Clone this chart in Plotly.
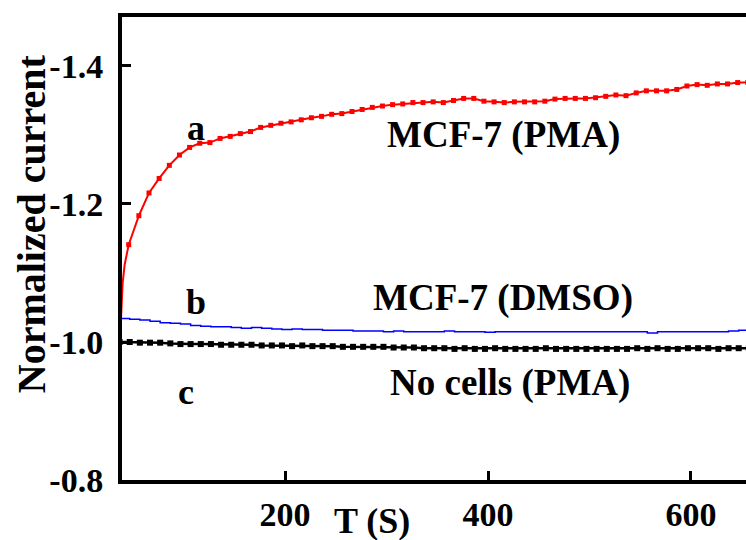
import plotly.graph_objects as go

# ---- data ----
t_red = [38, 40, 42, 46, 56, 66, 76, 86, 96, 106, 116, 126, 136, 146, 156, 166, 176, 186, 196,
         206, 216, 226, 236, 246, 256, 266, 276, 286, 296, 306, 316, 326, 336, 346, 356, 366,
         376, 386, 396, 406, 416, 426, 436, 446, 456, 466, 476, 486, 496, 506, 516, 526, 536,
         546, 556, 566, 576, 586, 596, 606, 616, 626, 636, 646, 656]
red = [-1.020, -1.085, -1.112, -1.141, -1.183, -1.216, -1.237, -1.256, -1.271, -1.282, -1.288,
       -1.289, -1.295, -1.298, -1.302, -1.305, -1.311, -1.314, -1.317, -1.319, -1.322, -1.325,
       -1.327, -1.330, -1.331, -1.334, -1.337, -1.340, -1.342, -1.344, -1.345, -1.347, -1.347,
       -1.348, -1.347, -1.350, -1.353, -1.353, -1.349, -1.348, -1.347, -1.348, -1.348, -1.348,
       -1.349, -1.352, -1.353, -1.353, -1.353, -1.354, -1.356, -1.358, -1.357, -1.361, -1.364,
       -1.364, -1.364, -1.366, -1.371, -1.373, -1.372, -1.374, -1.374, -1.376, -1.376]

t_blue = [37, 47, 57, 67, 77, 87, 97, 107, 117, 127, 137, 147, 157, 167, 177, 187, 197, 207, 217,
          227, 237, 247, 257, 267, 277, 287, 297, 307, 317, 327, 337, 347, 357, 367, 377, 387,
          397, 407, 417, 427, 437, 447, 457, 467, 477, 487, 497, 507, 517, 527, 537, 547, 557,
          567, 577, 587, 597, 607, 617, 627, 637, 647, 657]
blue = [-1.034, -1.033, -1.032, -1.030, -1.028, -1.027, -1.026, -1.024, -1.023, -1.022, -1.022,
        -1.021, -1.020, -1.021, -1.020, -1.019, -1.018, -1.019, -1.018, -1.018, -1.017, -1.017,
        -1.017, -1.016, -1.016, -1.016, -1.015, -1.016, -1.015, -1.015, -1.015, -1.015, -1.016,
        -1.015, -1.015, -1.015, -1.014, -1.015, -1.015, -1.015, -1.015, -1.015, -1.015, -1.015,
        -1.015, -1.015, -1.015, -1.015, -1.015, -1.015, -1.015, -1.015, -1.013, -1.015, -1.015,
        -1.015, -1.015, -1.015, -1.015, -1.015, -1.016, -1.017, -1.017]

t_black = [37, 47, 57, 67, 77, 87, 97, 107, 117, 127, 137, 147, 157, 167, 177, 187, 197, 207,
           217, 227, 237, 247, 257, 267, 277, 287, 297, 307, 317, 327, 337, 347, 357, 367, 377,
           387, 397, 407, 417, 427, 437, 447, 457, 467, 477, 487, 497, 507, 517, 527, 537, 547,
           557, 567, 577, 587, 597, 607, 617, 627, 637, 647, 657]
black = [-1.000, -1.000, -0.999, -0.999, -0.999, -0.998, -0.997, -0.997, -0.997, -0.997, -0.996,
         -0.996, -0.996, -0.996, -0.995, -0.995, -0.995, -0.994, -0.995, -0.994, -0.994, -0.994,
         -0.993, -0.993, -0.993, -0.993, -0.993, -0.992, -0.992, -0.992, -0.991, -0.991, -0.991,
         -0.990, -0.991, -0.990, -0.990, -0.991, -0.990, -0.990, -0.990, -0.990, -0.991, -0.990,
         -0.990, -0.990, -0.990, -0.990, -0.990, -0.990, -0.990, -0.991, -0.990, -0.991, -0.990,
         -0.990, -0.991, -0.991, -0.991, -0.990, -0.991, -0.991, -0.991]

x_ticks = [200, 400, 600]
y_ticks = [-1.4, -1.2, -1.0, -0.8]

labels = ["a", "b", "c", "MCF-7 (PMA)", "MCF-7 (DMSO)", "No cells (PMA)"]
label_t = [112, 112, 102, 415, 415, 422]
label_y = [-1.310, -1.058, -0.928, -1.300, -1.064, -0.941]

FONT = "Liberation Serif"

fig = go.Figure()
fig.add_trace(go.Scatter(x=t_red, y=red, mode="lines", line=dict(color="#ff0000", width=2),
                         showlegend=False))
fig.add_trace(go.Scatter(x=t_red[3:], y=red[3:], mode="markers",
                         marker=dict(symbol="square", size=5, color="#ff0000"), showlegend=False))
fig.add_trace(go.Scatter(x=t_blue, y=blue, mode="lines", line=dict(color="#0000ff", width=1.5, shape="hv"),
                         showlegend=False))
fig.add_trace(go.Scatter(x=t_black, y=black, mode="lines+markers", line=dict(color="#000000", width=2.5),
                         marker=dict(symbol="square", size=6, color="#000000"), showlegend=False))

for txt, tx, ty in zip(labels, label_t, label_y):
    fig.add_annotation(x=tx, y=ty, xref="x", yref="y", text="<b>%s</b>" % txt, showarrow=False,
                       xanchor="center", yanchor="middle",
                       font=dict(family=FONT, size=37 if len(txt) > 1 else 36, color="black"))

fig.add_annotation(x=286, y=-0.8, xref="x", yref="y", yshift=-41, text="<b>T (S)</b>",
                   xanchor="center", yanchor="middle",
                   showarrow=False, font=dict(family=FONT, size=36, color="black"))
fig.add_annotation(x=-0.146, xref="paper", y=-1.172, yref="y", text="<b>Normalized current</b>",
                   xanchor="center", yanchor="middle",
                   textangle=-90, showarrow=False, font=dict(family=FONT, size=40, color="black"))

fig.update_xaxes(range=[39.4, 654.2], tickvals=x_ticks, ticktext=[str(v) for v in x_ticks],
                 ticks="inside", ticklen=9, tickwidth=3, tickcolor="black",
                 showline=True, linewidth=4, linecolor="black", mirror=True,
                 showgrid=False, zeroline=False, ticklabelstandoff=1, automargin=False,
                 tickfont=dict(family=FONT, size=34, color="black", weight="bold"))
fig.update_yaxes(range=[-0.8, -1.471], tickvals=y_ticks, ticktext=["%.1f" % v for v in y_ticks],
                 ticks="inside", ticklen=9, tickwidth=3, tickcolor="black",
                 showline=True, linewidth=4, linecolor="black", mirror=False,
                 showgrid=False, zeroline=False, ticklabelstandoff=8, automargin=False,
                 tickfont=dict(family=FONT, size=34, color="black", weight="bold"))

fig.update_layout(width=746, height=540, margin=dict(l=122, r=0, t=17, b=60),
                  plot_bgcolor="white", paper_bgcolor="white")

fig.write_html("out.html", config={"displayModeBar": False},
               post_script="document.body.style.margin='0px';")
